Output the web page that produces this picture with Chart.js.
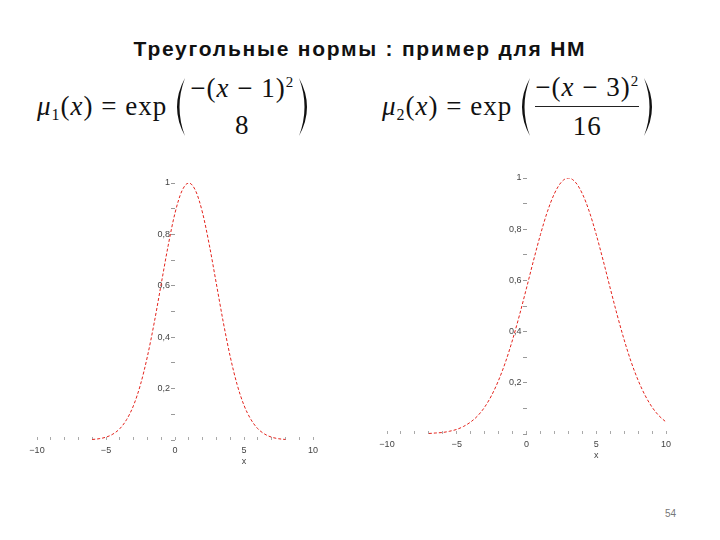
<!DOCTYPE html>
<html>
<head>
<meta charset="utf-8">
<script src="https://cdn.jsdelivr.net/npm/chart.js@4.4.1/dist/chart.umd.min.js"></script>
<style>
  body { margin: 0; width: 720px; height: 540px; background: #fff; position: relative; overflow: hidden; }
  #title { position: absolute; left: 0; top: 37px; width: 720px; text-align: center;
    font: bold 21px "Liberation Sans", Arial, sans-serif; color: #111; letter-spacing: 1.75px; }
  .formula { position: absolute; display: flex; align-items: center; height: 62px;
    font-family: "Liberation Serif", "Times New Roman", serif; font-size: 27px; color: #111; letter-spacing: 1px; }
  .formula sub { font-size: 16px; vertical-align: -5px; }
  .formula sup { font-size: 15px; vertical-align: 10px; }
  .paren { width: 18px; height: 60px; margin: 0 2px; }
  .frac { display: flex; flex-direction: column; align-items: center; line-height: 1.15; margin: 0 1px; }
  .frac .den { margin-top: 6px; }
  .frac.bar .den { border-top: 1px solid #222; width: 100%; text-align: center; margin-top: 3px; padding-top: 4px; }
  canvas { position: absolute; }
  #page { position: absolute; left: 665px; top: 508px; font: 10px "Liberation Sans", Arial, sans-serif; color: #777; }
</style>
</head>
<body>
<div id="title">Треугольные нормы : пример для НМ</div>

<div class="formula" style="left:37px;top:76px">
  <span><i>μ</i><sub>1</sub>(<i>x</i>) = exp</span>
  <svg class="paren" viewBox="0 0 18 60"><path d="M16,1 Q0,30 16,59 Q5,30 16,1 Z" fill="#111"/></svg>
  <span class="frac"><span>−(<i>x</i> − 1)<sup>2</sup></span><span class="den">8</span></span>
  <svg class="paren" viewBox="0 0 18 60"><path d="M2,1 Q18,30 2,59 Q13,30 2,1 Z" fill="#111"/></svg>
</div>

<div class="formula" style="left:382px;top:76px">
  <span><i>μ</i><sub>2</sub>(<i>x</i>) = exp</span>
  <svg class="paren" viewBox="0 0 18 60"><path d="M16,1 Q0,30 16,59 Q5,30 16,1 Z" fill="#111"/></svg>
  <span class="frac bar"><span>−(<i>x</i> − 3)<sup>2</sup></span><span class="den">16</span></span>
  <svg class="paren" viewBox="0 0 18 60"><path d="M2,1 Q18,30 2,59 Q13,30 2,1 Z" fill="#111"/></svg>
</div>

<canvas id="chart1" width="310" height="310" style="left:20px;top:165px"></canvas>
<canvas id="chart2" width="320" height="310" style="left:370px;top:160px"></canvas>

<div id="page">54</div>

<script>
// left plot: mu1(x), every 0.5
const xs1 = [-6, -5.5, -5, -4.5, -4, -3.5, -3, -2.5, -2, -1.5, -1, -0.5, 0, 0.5, 1,
  1.5, 2, 2.5, 3, 3.5, 4, 4.5, 5, 5.5, 6, 6.5, 7, 7.5, 8];
const mu1 = [0.002, 0.005, 0.011, 0.023, 0.044, 0.080, 0.135, 0.216, 0.325, 0.458, 0.607, 0.755, 0.883, 0.969, 1.0,
  0.969, 0.883, 0.755, 0.607, 0.458, 0.325, 0.216, 0.135, 0.080, 0.044, 0.023, 0.011, 0.005, 0.002];

// right plot: mu2(x)
const xs2 = [-7, -6.5, -6, -5.5, -5, -4.5, -4, -3.5, -3, -2.5, -2, -1.5, -1, -0.5, 0, 0.5, 1, 1.5, 2, 2.5, 3,
  3.5, 4, 4.5, 5, 5.5, 6, 6.5, 7, 7.5, 8, 8.5, 9, 9.5, 10];
const mu2 = [0.002, 0.004, 0.006, 0.011, 0.018, 0.030, 0.047, 0.071, 0.105, 0.151, 0.210, 0.282, 0.368, 0.465, 0.570,
  0.677, 0.779, 0.869, 0.939, 0.984, 1.0, 0.984, 0.939, 0.869, 0.779, 0.677, 0.570, 0.465, 0.368, 0.282,
  0.210, 0.151, 0.105, 0.071, 0.047];

const xTickLabels = { '-10': '−10', '-5': '−5', '0': '0', '5': ['5', 'x'], '10': '10' };
// trailing spaces keep the label clear of the tick dash
const yTickLabels = { 2: '0,2  ', 4: '0,4  ', 6: '0,6  ', 8: '0,8  ', 10: '1  ' };

const tickFont = { family: 'Liberation Sans', size: 9 };

function makePlot(id, xs, ys, padding) {
  const ctx = document.getElementById(id).getContext('2d');
  return new Chart(ctx, {
    type: 'scatter',
    data: {
      datasets: [{
        data: xs.map((x, i) => ({ x: x, y: ys[i] })),
        showLine: true,
        borderColor: '#e3231c',
        borderWidth: 1,
        borderDash: [3, 2],
        pointRadius: 0,
        cubicInterpolationMode: 'monotone'
      }]
    },
    options: {
      responsive: false,
      animation: false,
      layout: { padding: padding },
      plugins: { legend: { display: false }, tooltip: { enabled: false } },
      scales: {
        x: {
          type: 'linear',
          min: -10,
          max: 10,
          position: { y: 0 },
          border: { display: false },
          grid: { drawOnChartArea: false, drawTicks: true, tickLength: -3, color: '#aaa' },
          ticks: {
            stepSize: 1,
            autoSkip: false,
            maxRotation: 0,
            padding: 8,
            color: '#444',
            font: tickFont,
            callback: v => xTickLabels[String(v)] ?? ''
          }
        },
        y: {
          type: 'linear',
          min: 0,
          max: 1,
          position: { x: 0 },
          border: { display: false },
          grid: { drawOnChartArea: false, drawTicks: true, tickLength: 4, color: '#999' },
          ticks: {
            stepSize: 0.1,
            autoSkip: false,
            padding: 2,
            color: '#444',
            font: tickFont,
            callback: v => yTickLabels[Math.round(v * 10)] ?? ''
          }
        }
      }
    }
  });
}

makePlot('chart1', xs1, mu1, { left: 17, right: 17, top: 18, bottom: 35 });
makePlot('chart2', xs2, mu2, { left: 17, right: 24, top: 18, bottom: 36 });
</script>
</body>
</html>
